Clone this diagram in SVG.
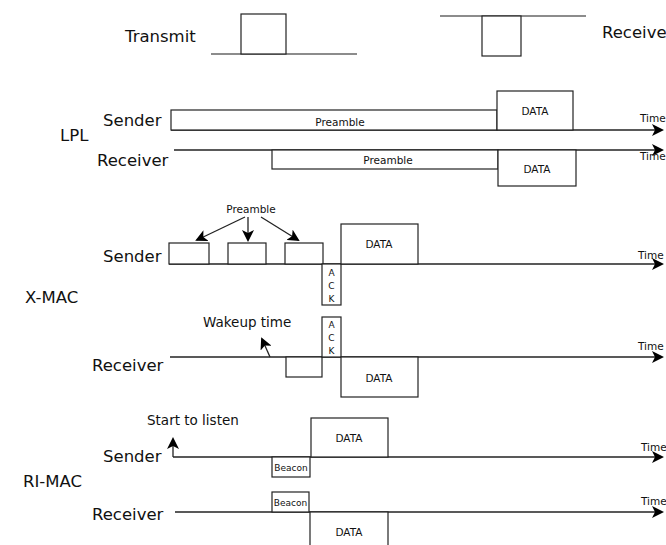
<svg xmlns="http://www.w3.org/2000/svg" width="666" height="545" viewBox="0 0 666 545">
<style>
text{font-family:"DejaVu Sans",Verdana,sans-serif;fill:#111}
.big{font-size:16.5px}
.sm{font-size:10.5px}
.md{font-size:13.5px}
.xs{font-size:9px}
.box{fill:#fff;stroke:#222;stroke-width:1.2}
.ln{fill:none;stroke:#222;stroke-width:1.3}
.gl{fill:none;stroke:#666;stroke-width:1.3}
</style>
<defs>
<marker id="ah" markerUnits="userSpaceOnUse" markerWidth="14" markerHeight="12" refX="10" refY="6" orient="auto">
<path d="M0,0 L12,6 L0,12 L3,6 z" fill="#000"/>
</marker>
</defs>
<g id="legend">
<text class="big" x="125" y="42">Transmit</text>
<path class="gl" d="M211,54 H357"/>
<rect class="box" x="241" y="14" width="45" height="40"/>
<path class="gl" d="M440,16 H586"/>
<rect class="box" x="482" y="16" width="39" height="40"/>
<text class="big" x="602" y="38">Receive</text>
</g>
<g id="connectors">
<path class="ln" d="M171,130 H662" marker-end="url(#ah)"/>
<path class="ln" d="M174,150 H662" marker-end="url(#ah)"/>
<path class="ln" d="M169,264 H662" marker-end="url(#ah)"/>
<path class="ln" d="M170,357 H662" marker-end="url(#ah)"/>
<path class="ln" d="M173,457 V439" marker-end="url(#ah)"/>
<path class="ln" d="M173,457 H662" marker-end="url(#ah)"/>
<path class="ln" d="M175,512 H662" marker-end="url(#ah)"/>
<path class="ln" d="M245,217 L197,240" marker-end="url(#ah)"/>
<path class="ln" d="M248,217 V240" marker-end="url(#ah)"/>
<path class="ln" d="M261,217 L298,240" marker-end="url(#ah)"/>
<path class="ln" d="M270,357 L262,339" marker-end="url(#ah)"/>
</g>
<g id="lpl">
<text class="big" x="60" y="141">LPL</text>
<text class="big" x="103" y="126">Sender</text>
<rect class="box" x="171" y="110" width="326" height="20"/>
<text class="sm" x="340" y="126" text-anchor="middle">Preamble</text>
<rect class="box" x="497" y="91" width="76" height="39"/>
<text class="sm" x="535" y="115" text-anchor="middle">DATA</text>
<text class="sm" x="640" y="122">Time</text>
<text class="big" x="97" y="166">Receiver</text>
<rect class="box" x="272" y="150" width="226" height="19"/>
<text class="sm" x="388" y="164" text-anchor="middle">Preamble</text>
<rect class="box" x="498" y="150" width="78" height="36"/>
<text class="sm" x="537" y="173" text-anchor="middle">DATA</text>
<text class="sm" x="640" y="160">Time</text>
</g>
<g id="xmac">
<text class="big" x="25" y="303">X-MAC</text>
<text class="sm" x="251" y="213" text-anchor="middle">Preamble</text>
<text class="big" x="103" y="262">Sender</text>
<rect class="box" x="169" y="243" width="40" height="21"/>
<rect class="box" x="228" y="243" width="38" height="21"/>
<rect class="box" x="285" y="243" width="38" height="21"/>
<rect class="box" x="322" y="264" width="19" height="41"/>
<text class="xs" x="331.5" y="276" text-anchor="middle">A</text>
<text class="xs" x="331.5" y="289" text-anchor="middle">C</text>
<text class="xs" x="331.5" y="302" text-anchor="middle">K</text>
<rect class="box" x="341" y="224" width="77" height="40"/>
<text class="sm" x="379" y="248" text-anchor="middle">DATA</text>
<text class="sm" x="638" y="259">Time</text>
<text class="md" x="203" y="327">Wakeup time</text>
<text class="big" x="92" y="371">Receiver</text>
<rect class="box" x="286" y="357" width="36" height="20"/>
<rect class="box" x="322" y="317" width="19" height="40"/>
<text class="xs" x="331.5" y="328" text-anchor="middle">A</text>
<text class="xs" x="331.5" y="341" text-anchor="middle">C</text>
<text class="xs" x="331.5" y="354" text-anchor="middle">K</text>
<rect class="box" x="341" y="357" width="77" height="40"/>
<text class="sm" x="379" y="382" text-anchor="middle">DATA</text>
<text class="sm" x="638" y="350">Time</text>
</g>
<g id="rimac">
<text class="big" x="23" y="487">RI-MAC</text>
<text class="md" x="147" y="425">Start to listen</text>
<text class="big" x="103" y="462">Sender</text>
<rect class="box" x="272" y="457" width="38" height="20"/>
<text class="xs" x="291" y="471" text-anchor="middle">Beacon</text>
<rect class="box" x="311" y="418" width="77" height="39"/>
<text class="sm" x="349" y="442" text-anchor="middle">DATA</text>
<text class="sm" x="641" y="451">Time</text>
<text class="big" x="92" y="520">Receiver</text>
<rect class="box" x="272" y="492" width="37" height="20"/>
<text class="xs" x="290.5" y="506" text-anchor="middle">Beacon</text>
<rect class="box" x="310" y="512" width="78" height="40"/>
<text class="sm" x="349" y="536" text-anchor="middle">DATA</text>
<text class="sm" x="641" y="505">Time</text>
</g>
</svg>
